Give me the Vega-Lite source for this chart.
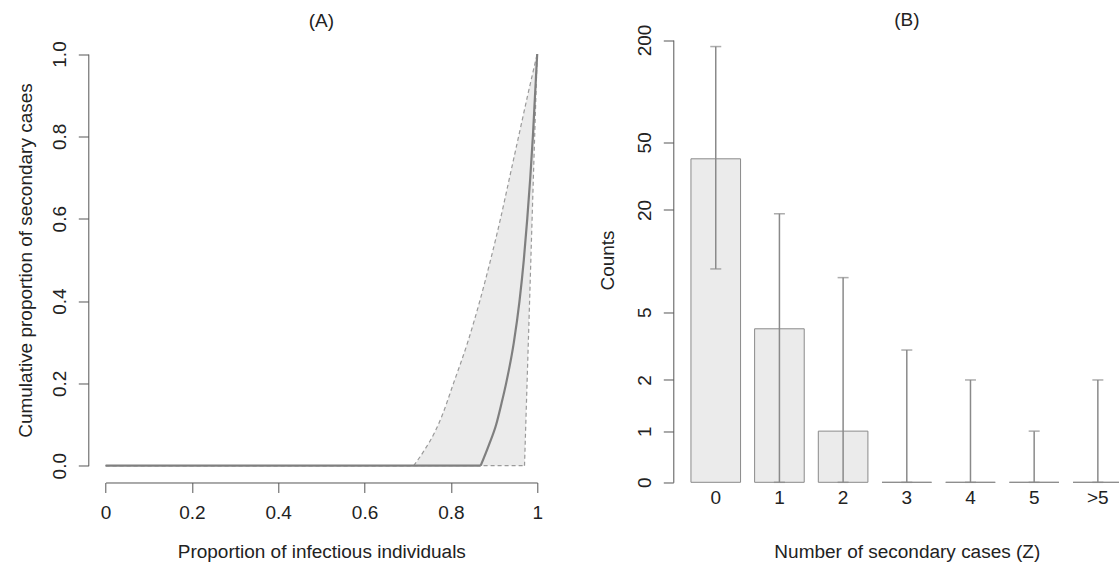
{
  "$schema": "https://vega.github.io/schema/vega-lite/v6.json",
  "autosize": {"type": "none"},
  "padding": {"left": 88.3, "top": 37.5, "right": 1100, "bottom": 100},
  "background": "white",
  "bounds": "flush",
  "spacing": 119,
  "config": {
    "view": {"stroke": null},
    "font": "Liberation Sans",
    "axis": {
      "grid": false,
      "labelFont": "Liberation Sans",
      "titleFont": "Liberation Sans",
      "labelFontSize": 19,
      "titleFontSize": 19,
      "titleFontWeight": "normal",
      "labelColor": "#222222",
      "titleColor": "#222222",
      "domainColor": "#555555",
      "tickColor": "#555555",
      "domainWidth": 1,
      "tickWidth": 1,
      "tickSize": 10,
      "labelOverlap": false,
      "labelFlush": false
    },
    "title": {"font": "Liberation Sans", "fontSize": 19, "fontWeight": "normal", "color": "#222222"}
  },
  "datasets": {
    "band": [
      {"y": 0, "left": 0.714, "right": 0.9706},
      {"y": 0.04, "left": 0.74, "right": 0.9718},
      {"y": 0.08, "left": 0.762, "right": 0.9730},
      {"y": 0.12, "left": 0.779, "right": 0.9741},
      {"y": 0.2, "left": 0.806, "right": 0.9765},
      {"y": 0.3, "left": 0.839, "right": 0.9794},
      {"y": 0.4, "left": 0.867, "right": 0.9824},
      {"y": 0.5, "left": 0.892, "right": 0.9853},
      {"y": 0.6, "left": 0.915, "right": 0.9882},
      {"y": 0.7, "left": 0.936, "right": 0.9912},
      {"y": 0.8, "left": 0.957, "right": 0.9941},
      {"y": 0.9, "left": 0.978, "right": 0.9971},
      {"y": 1, "left": 1, "right": 1}
    ],
    "curves": [
      {"series": "upper", "part": "flat", "x": 0, "y": 0},
      {"series": "upper", "part": "flat", "x": 0.714, "y": 0},
      {"series": "upper", "part": "curve", "x": 0.714, "y": 0},
      {"series": "upper", "part": "curve", "x": 0.74, "y": 0.04},
      {"series": "upper", "part": "curve", "x": 0.762, "y": 0.08},
      {"series": "upper", "part": "curve", "x": 0.779, "y": 0.12},
      {"series": "upper", "part": "curve", "x": 0.806, "y": 0.2},
      {"series": "upper", "part": "curve", "x": 0.839, "y": 0.3},
      {"series": "upper", "part": "curve", "x": 0.867, "y": 0.4},
      {"series": "upper", "part": "curve", "x": 0.892, "y": 0.5},
      {"series": "upper", "part": "curve", "x": 0.915, "y": 0.6},
      {"series": "upper", "part": "curve", "x": 0.936, "y": 0.7},
      {"series": "upper", "part": "curve", "x": 0.957, "y": 0.8},
      {"series": "upper", "part": "curve", "x": 0.978, "y": 0.9},
      {"series": "upper", "part": "curve", "x": 1, "y": 1},
      {"series": "lower", "part": "flat", "x": 0, "y": 0},
      {"series": "lower", "part": "flat", "x": 0.9706, "y": 0},
      {"series": "lower", "part": "curve", "x": 0.9706, "y": 0},
      {"series": "lower", "part": "curve", "x": 0.9765, "y": 0.2},
      {"series": "lower", "part": "curve", "x": 0.9824, "y": 0.4},
      {"series": "lower", "part": "curve", "x": 0.9882, "y": 0.6},
      {"series": "lower", "part": "curve", "x": 0.9941, "y": 0.8},
      {"series": "lower", "part": "curve", "x": 1, "y": 1},
      {"series": "estimate", "part": "flat", "x": 0, "y": 0},
      {"series": "estimate", "part": "flat", "x": 0.869, "y": 0},
      {"series": "estimate", "part": "curve", "x": 0.869, "y": 0},
      {"series": "estimate", "part": "curve", "x": 0.888, "y": 0.05},
      {"series": "estimate", "part": "curve", "x": 0.905, "y": 0.1},
      {"series": "estimate", "part": "curve", "x": 0.917, "y": 0.15},
      {"series": "estimate", "part": "curve", "x": 0.928, "y": 0.2},
      {"series": "estimate", "part": "curve", "x": 0.946, "y": 0.3},
      {"series": "estimate", "part": "curve", "x": 0.959, "y": 0.4},
      {"series": "estimate", "part": "curve", "x": 0.969, "y": 0.5},
      {"series": "estimate", "part": "curve", "x": 0.977, "y": 0.6},
      {"series": "estimate", "part": "curve", "x": 0.984, "y": 0.7},
      {"series": "estimate", "part": "curve", "x": 0.99, "y": 0.8},
      {"series": "estimate", "part": "curve", "x": 0.995, "y": 0.9},
      {"series": "estimate", "part": "curve", "x": 1, "y": 1}
    ],
    "counts": [
      {"z": "0", "count": 40, "lower": 9, "upper": 183},
      {"z": "1", "count": 4, "lower": 0, "upper": 19},
      {"z": "2", "count": 1, "lower": 0, "upper": 8},
      {"z": "3", "count": 0, "lower": 0, "upper": 3},
      {"z": "4", "count": 0, "lower": 0, "upper": 2},
      {"z": "5", "count": 0, "lower": 0, "upper": 1},
      {"z": ">5", "count": 0, "lower": 0, "upper": 2}
    ]
  },
  "hconcat": [
    {
      "width": 466,
      "height": 445,
      "title": {"text": "(A)", "baseline": "alphabetic", "offset": 12.2, "dy": 21, "anchor": "middle"},
      "layer": [
        {
          "data": {"name": "band"},
          "mark": {"type": "area", "orient": "horizontal", "interpolate": "monotone", "color": "#ebebeb", "opacity": 1},
          "encoding": {
            "y": {
              "field": "y", "type": "quantitative",
              "scale": {"domain": [0, 1], "range": [428.2, 16.5], "nice": false, "zero": false},
              "axis": {
                "values": [0, 0.2, 0.4, 0.6, 0.8, 1],
                "format": ".1f",
                "labelAngle": -90,
                "labelAlign": "center",
                "labelBaseline": "alphabetic",
                "labelPadding": 12.3,
                "title": "Cumulative proportion of secondary cases",
                "titleAngle": -90,
                "titleAlign": "center",
                "titleBaseline": "alphabetic",
                "titleX": -56.5,
                "titleY": 222.5
              }
            },
            "x": {
              "field": "left", "type": "quantitative",
              "scale": {"domain": [0, 1], "range": [17.3, 448.9], "nice": false, "zero": false},
              "axis": {
                "values": [0, 0.2, 0.4, 0.6, 0.8, 1],
                "format": "~g",
                "labelAngle": 0,
                "labelAlign": "center",
                "labelBaseline": "alphabetic",
                "labelPadding": 26.5,
                "title": "Proportion of infectious individuals",
                "titleBaseline": "alphabetic",
                "titleAlign": "center",
                "titleX": 233,
                "titleY": 75.2
              }
            },
            "x2": {"field": "right"}
          }
        },
        {
          "data": {"name": "curves"},
          "transform": [{"filter": "datum.series !== 'estimate'"}],
          "mark": {"type": "line", "interpolate": "monotone", "color": "#9a9a9a", "strokeWidth": 1.2, "strokeDash": [4, 3]},
          "encoding": {
            "x": {"field": "x", "type": "quantitative"},
            "y": {"field": "y", "type": "quantitative"},
            "detail": [{"field": "series"}, {"field": "part"}]
          }
        },
        {
          "data": {"name": "curves"},
          "transform": [{"filter": "datum.series === 'estimate'"}],
          "mark": {"type": "line", "interpolate": "monotone", "color": "#7f7f7f", "strokeWidth": 2.2},
          "encoding": {
            "x": {"field": "x", "type": "quantitative"},
            "y": {"field": "y", "type": "quantitative"},
            "detail": {"field": "part"}
          }
        }
      ]
    },
    {
      "width": 467,
      "height": 445,
      "title": {"text": "(B)", "baseline": "alphabetic", "offset": 12.2, "dy": 33, "anchor": "middle"},
      "data": {"name": "counts"},
      "encoding": {
        "x": {
          "field": "z", "type": "nominal", "sort": null,
          "scale": {"paddingInner": 0.221, "paddingOuter": 0.277},
          "axis": {
            "domain": false,
            "ticks": false,
            "tickSize": 0,
            "labelAngle": 0,
            "labelAlign": "center",
            "labelBaseline": "alphabetic",
            "labelPadding": 20.8,
            "title": "Number of secondary cases (Z)",
            "titleBaseline": "alphabetic",
            "titleAlign": "center",
            "titleX": 233.5,
            "titleY": 75.2
          }
        }
      },
      "layer": [
        {
          "mark": {"type": "bar", "fill": "#ebebeb", "stroke": "#8a8a8a", "strokeWidth": 1},
          "encoding": {
            "y": {
              "field": "count", "type": "quantitative",
              "scale": {"type": "log", "domain": [0.5, 200], "range": [444.8, 2.5], "clamp": true, "nice": false, "zero": false},
              "axis": {
                "values": [0.5, 1, 2, 5, 20, 50, 200],
                "labelExpr": "datum.value < 0.9 ? '0' : format(datum.value, 'd')",
                "labelAngle": -90,
                "labelAlign": "center",
                "labelBaseline": "alphabetic",
                "labelPadding": 12.3,
                "title": "Counts",
                "titleAngle": -90,
                "titleAlign": "center",
                "titleBaseline": "alphabetic",
                "titleX": -59.5,
                "titleY": 222.5
              }
            }
          }
        },
        {
          "mark": {"type": "rule", "color": "#8a8a8a", "strokeWidth": 1.5},
          "encoding": {
            "y": {"field": "lower", "type": "quantitative"},
            "y2": {"field": "upper"}
          }
        },
        {
          "mark": {"type": "tick", "color": "#8a8a8a", "thickness": 1.5, "size": 11},
          "encoding": {"y": {"field": "upper", "type": "quantitative"}}
        },
        {
          "mark": {"type": "tick", "color": "#8a8a8a", "thickness": 1.5, "size": 11},
          "encoding": {"y": {"field": "lower", "type": "quantitative"}}
        }
      ]
    }
  ]
}
